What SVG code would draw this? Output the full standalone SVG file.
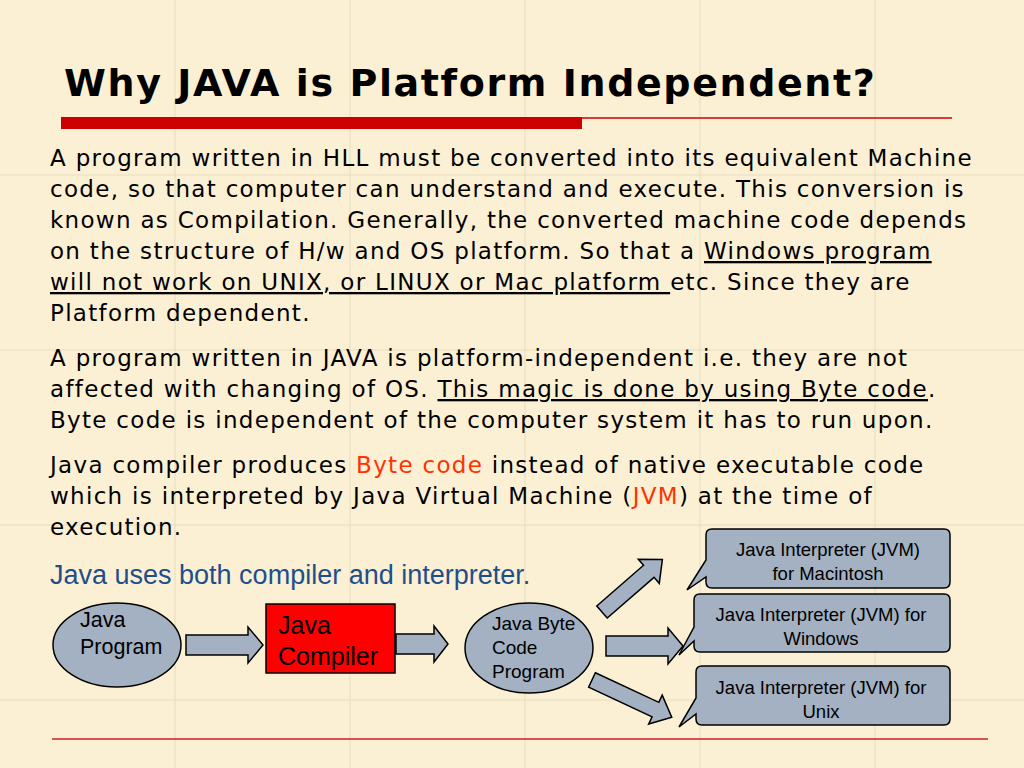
<svg xmlns="http://www.w3.org/2000/svg" width="1024" height="768" viewBox="0 0 1024 768">
<style>
.t{font-family:"DejaVu Sans",Verdana,sans-serif;font-size:23px;letter-spacing:1.3px;fill:#000}
.a{font-family:"Liberation Sans",Arial,sans-serif}
.n{fill:#a3b1c2;stroke:#000;stroke-width:1.5}
.c{fill:#a3b1c2;stroke:#000;stroke-width:1.5}
.g{stroke:#e6dcc0;stroke-width:1}
</style>
<rect width="1024" height="768" fill="#fbf0d4"/>
<g class="g">
<line x1="175" y1="0" x2="175" y2="768"/><line x1="350" y1="0" x2="350" y2="768"/><line x1="525" y1="0" x2="525" y2="768"/><line x1="700" y1="0" x2="700" y2="768"/><line x1="875" y1="0" x2="875" y2="768"/>
<line x1="0" y1="175" x2="1024" y2="175"/><line x1="0" y1="350" x2="1024" y2="350"/><line x1="0" y1="525" x2="1024" y2="525"/><line x1="0" y1="700" x2="1024" y2="700"/>
</g>
<text x="64" y="96" style="font-family:'DejaVu Sans',Verdana,sans-serif;font-weight:bold;font-size:38px;letter-spacing:1.6px">Why JAVA is Platform Independent?</text>
<rect x="61" y="117" width="521" height="12" fill="#cc0000"/>
<line x1="582" y1="118" x2="952" y2="118" stroke="#cc0000" stroke-width="1.5"/>
<g class="t">
<text x="50" y="166">A program written in HLL must be converted into its equivalent Machine</text>
<text x="50" y="197">code, so that computer can understand and execute. This conversion is</text>
<text x="50" y="228">known as Compilation. Generally, the converted machine code depends</text>
<text x="50" y="259">on the structure of H/w and OS platform. So that a <tspan text-decoration="underline">Windows program</tspan></text>
<text x="50" y="290"><tspan text-decoration="underline">will not work on UNIX, or LINUX or Mac platform </tspan>etc. Since they are</text>
<text x="50" y="321">Platform dependent.</text>
<text x="50" y="366">A program written in JAVA is platform-independent i.e. they are not</text>
<text x="50" y="397">affected with changing of OS. <tspan text-decoration="underline">This magic is done by using Byte code</tspan>.</text>
<text x="50" y="428">Byte code is independent of the computer system it has to run upon.</text>
<text x="50" y="473">Java compiler produces <tspan fill="#ff3300">Byte code</tspan> instead of native executable code</text>
<text x="50" y="504">which is interpreted by Java Virtual Machine (<tspan fill="#ff3300">JVM</tspan>) at the time of</text>
<text x="50" y="535">execution.</text>
</g>
<text x="50" y="584" class="a" font-size="27" fill="#1f4e8c">Java uses both compiler and interpreter.</text>
<g id="connectors" class="c">
<path transform="translate(186,645)" d="M0,-10 H62 V-18 L77,0 L62,18 V10 H0 Z"/>
<path transform="translate(396,644)" d="M0,-10 H38 V-18 L52,0 L38,18 V10 H0 Z"/>
<path transform="translate(606,646)" d="M0,-10 H62 V-18 L77,0 L62,18 V10 H0 Z"/>
<path transform="translate(602,612) rotate(-41)" d="M0,-8 H62 V-16 L80,0 L62,16 V8 H0 Z"/>
<path transform="translate(592,680) rotate(25)" d="M0,-8 H70 V-16 L88,0 L70,16 V8 H0 Z"/>
</g>
<g id="javaProgram">
<ellipse class="n" cx="117" cy="645" rx="64" ry="42"/>
<text class="a" font-size="21.5" x="80" y="627">Java</text>
<text class="a" font-size="21.5" x="80" y="654">Program</text>
</g>
<g id="javaCompiler">
<rect x="266" y="604" width="129" height="69" fill="#ff0000" stroke="#000" stroke-width="1.5"/>
<text class="a" font-size="25" x="278" y="634" fill="#000">Java</text>
<text class="a" font-size="25" x="278" y="665" fill="#000">Compiler</text>
</g>
<g id="byteCode">
<ellipse class="n" cx="529" cy="648" rx="64" ry="45"/>
<text class="a" font-size="19" x="492" y="630">Java Byte</text>
<text class="a" font-size="19" x="492" y="654">Code</text>
<text class="a" font-size="19" x="492" y="678">Program</text>
</g>
<g id="jvmMac">
<path class="n" d="M712,529 H944 Q950,529 950,535 V582 Q950,588 944,588 H712 Q706,588 706,582 V577 L687,590 L706,560 V535 Q706,529 712,529 Z"/>
<text class="a" font-size="18.5" text-anchor="middle" x="828" y="556">Java Interpreter (JVM)</text>
<text class="a" font-size="18.5" text-anchor="middle" x="828" y="580">for Macintosh</text>
</g>
<g id="jvmWin">
<path class="n" d="M700,594 H944 Q950,594 950,600 V646 Q950,652 944,652 H700 Q694,652 694,646 V641 L679,655 L694,627 V600 Q694,594 700,594 Z"/>
<text class="a" font-size="18.5" text-anchor="middle" x="821" y="621">Java Interpreter (JVM) for</text>
<text class="a" font-size="18.5" text-anchor="middle" x="821" y="645">Windows</text>
</g>
<g id="jvmUnix">
<path class="n" d="M702,666 H944 Q950,666 950,672 V719 Q950,725 944,725 H702 Q696,725 696,719 V714 L679,727 L696,698 V672 Q696,666 702,666 Z"/>
<text class="a" font-size="18.5" text-anchor="middle" x="821" y="694">Java Interpreter (JVM) for</text>
<text class="a" font-size="18.5" text-anchor="middle" x="821" y="718">Unix</text>
</g>
<line x1="52" y1="739" x2="988" y2="739" stroke="#cc2222" stroke-width="1.5"/>
</svg>
